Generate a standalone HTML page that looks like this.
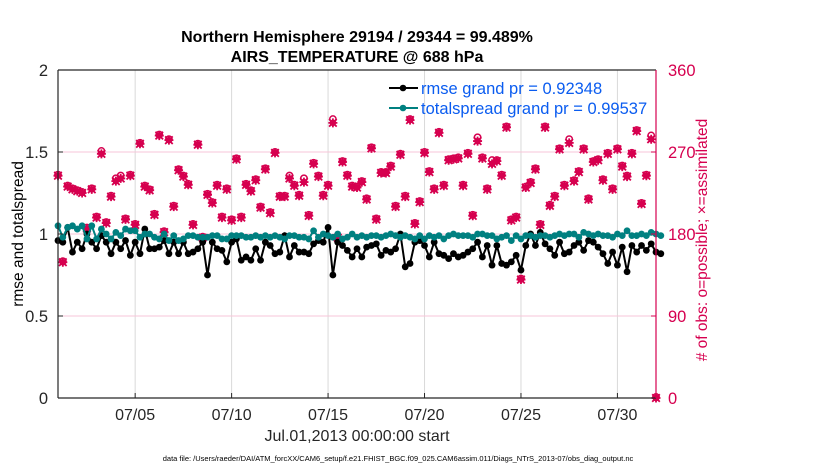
<!DOCTYPE html>
<html><head><meta charset="utf-8">
<style>
body{margin:0;background:#fff;width:830px;height:470px;overflow:hidden;font-family:"Liberation Sans",Arial,sans-serif}
svg text{font-family:"Liberation Sans",Arial,sans-serif}
</style></head>
<body>
<svg id="chart" width="830" height="470" viewBox="0 0 830 470" xmlns="http://www.w3.org/2000/svg">
<text x="357" y="42" text-anchor="middle" font-size="16" font-weight="bold">Northern Hemisphere 29194 / 29344 = 99.489%</text>
<text x="357" y="62" text-anchor="middle" font-size="16" font-weight="bold">AIRS_TEMPERATURE @ 688 hPa</text>
<g id="grid"></g>
<g id="marks"></g>
<g id="axes"></g>
<text transform="translate(23,234) rotate(-90)" text-anchor="middle" font-size="15.5">rmse and totalspread</text>
<text transform="translate(707,240) rotate(-90)" text-anchor="middle" font-size="15.5" fill="#d6004f"># of obs: o=possible; ×=assimilated</text>
<text x="357" y="441" text-anchor="middle" font-size="16" fill="#262626">Jul.01,2013 00:00:00 start</text>
<text x="398" y="461" text-anchor="middle" font-size="7.5">data file: /Users/raeder/DAI/ATM_forcXX/CAM6_setup/f.e21.FHIST_BGC.f09_025.CAM6assim.011/Diags_NTrS_2013-07/obs_diag_output.nc</text>
<g>
<line x1="389" y1="88" x2="418" y2="88" stroke="#000" stroke-width="2"/>
<circle cx="403" cy="88" r="3.3" fill="#000"/>
<text x="421" y="94" font-size="16.5" fill="#0a5cf0">rmse grand pr = 0.92348</text>
<line x1="389" y1="108" x2="418" y2="108" stroke="#008080" stroke-width="2"/>
<circle cx="403" cy="108" r="3.3" fill="#008080"/>
<text x="421" y="114" font-size="16.5" fill="#0a5cf0">totalspread grand pr = 0.99537</text>
</g>
</svg>
<script>
const obsAssim=[244,149,232,229,227,225,186,229,198,268,192,221,238,241,196,244,190,279,232,228,201,288,182,283,210,250,243,234,190,278,176,223,214,233,198,229,195,262,198,234,227,239,209,
251,203,269,221,221,241,233,222,237,200,257,243,222,233,302,176,259,244,232,231,237,218,274,196,247,247,254,210,267,221,305,191,215,269,248,229,291,233,261,262,
263,233,268,200,282,263,229,257,260,244,297,195,198,130,231,236,251,190,297,211,221,273,233,280,238,248,273,218,259,261,239,268,229,273,254,243,268,293,213,244,284,0];
const obsPossible=[244,149,232,229,227,225,186,229,198,270,192,221,240,243,196,244,190,279,232,228,201,288,182,283,210,250,243,234,190,278,176,223,214,233,198,229,195,262,198,234,227,239,209,
251,203,269,221,221,243,233,222,240,200,257,243,222,233,305,176,259,244,232,231,237,218,274,196,247,247,254,210,267,221,305,191,215,269,248,229,291,233,261,262,
263,233,268,200,285,263,229,260,260,244,297,195,198,130,231,236,251,190,297,211,221,273,233,283,238,248,273,218,259,261,239,268,229,273,254,243,268,293,213,244,287,0];
const rmse=[0.96,0.95,1.04,0.89,0.95,0.91,1.0,0.95,0.91,0.99,0.95,0.88,0.95,0.91,0.96,0.87,0.95,0.88,1.03,0.91,0.91,0.92,0.96,0.88,0.95,0.88,0.95,0.88,0.89,0.91,0.95,0.75,0.95,0.91,0.90,0.83,0.95,0.97,0.84,0.86,0.84,0.91,
0.84,0.95,0.93,0.88,0.89,0.99,0.86,0.93,0.89,0.89,0.88,0.94,0.96,0.95,1.04,0.75,0.95,0.93,0.90,0.86,0.91,0.86,0.92,0.93,0.94,0.87,0.90,0.89,0.91,1.0,0.80,0.82,0.95,0.96,0.93,0.86,0.95,0.88,0.87,0.85,0.88,0.86,
0.87,0.89,0.91,0.95,0.86,0.93,0.81,0.93,0.82,0.81,0.83,0.87,0.78,0.93,1.0,0.93,1.01,0.94,0.91,0.87,0.95,0.88,0.89,0.93,0.95,0.90,0.96,0.95,0.92,0.88,0.82,0.89,0.81,0.92,0.77,0.93,0.89,0.93,0.90,0.94,0.89,0.88,null];
const spread=[1.05,0.98,1.04,1.05,1.03,1.05,0.97,1.05,0.97,1.03,1.00,0.97,1.01,0.99,1.03,1.02,1.02,0.98,1.00,1.00,0.98,0.97,1.00,0.96,0.99,0.96,0.97,0.99,0.99,0.98,0.98,0.98,0.99,0.99,0.97,0.97,0.99,0.99,0.99,0.98,0.98,0.99,
0.98,0.99,0.98,0.99,0.98,0.97,0.99,0.99,0.98,0.98,0.97,1.02,0.98,1.00,0.99,0.98,1.00,0.97,0.98,1.00,0.98,0.99,0.98,0.99,0.99,0.98,0.99,1.00,0.99,0.98,0.99,0.98,0.97,0.99,0.97,0.99,0.98,0.99,0.97,0.99,1.00,0.99,
0.99,0.99,0.98,1.00,1.00,0.99,0.99,0.97,0.98,0.99,0.96,0.99,0.97,0.99,0.99,0.98,0.99,0.99,0.98,0.99,1.00,0.99,1.00,1.00,0.98,1.01,1.00,0.99,1.00,0.99,0.99,0.98,1.00,0.99,1.02,0.99,0.99,1.00,0.99,1.01,1.00,0.99,null];
const dateTicks=[4,9,14,19,24,29];
const dateLabels=["07/05","07/10","07/15","07/20","07/25","07/30"];
const leftTicks=[0,0.5,1,1.5,2];
const rightTicks=[0,90,180,270,360];

const X0=58,X1=656,Y0=398,Y1=70,DAYS=31;
const xs=t=>X0+(X1-X0)*t/DAYS;
const yl=v=>Y0-(Y0-Y1)*v/2;
const yr=v=>Y0-(Y0-Y1)*v/360;
const NS="http://www.w3.org/2000/svg";
function mk(tag,attrs,parent){const e=document.createElementNS(NS,tag);for(const k in attrs)e.setAttribute(k,attrs[k]);parent.appendChild(e);return e;}
const grid=document.getElementById('grid'),marks=document.getElementById('marks'),axes=document.getElementById('axes');

dateTicks.forEach((d,i)=>{
  const l=mk('line',{x1:xs(d),x2:xs(d),y1:Y1,y2:Y0,stroke:'#d9d9d9','stroke-width':1},grid);
  
  
  const tk=mk('line',{x1:xs(d),x2:xs(d),y1:Y0,y2:Y0-5,stroke:'#262626','stroke-width':1},axes);
  
  
  const t=mk('text',{x:xs(d),y:Y0+22,'text-anchor':'middle','font-size':16,fill:'#262626'},axes);
  t.textContent=dateLabels[i];
  
  
});
rightTicks.forEach(v=>{
  if(v>0&&v<360){const l=mk('line',{x1:X0,x2:X1,y1:yr(v),y2:yr(v),stroke:'#f7c6d8','stroke-width':1},grid);
  
  }
  const t=mk('text',{x:X1+12,y:yr(v)+6,'font-size':16.5,fill:'#d6004f'},axes);
  t.textContent=String(v);
  
  
  const tk=mk('line',{x1:X1,x2:X1-5,y1:yr(v),y2:yr(v),stroke:'#d6004f'},axes);
  
  
});
leftTicks.forEach(v=>{
  const t=mk('text',{x:X0-10,y:yl(v)+6,'text-anchor':'end','font-size':16.5,fill:'#262626'},axes);
  t.textContent=String(v);
  
  
  const tk=mk('line',{x1:X0,x2:X0+5,y1:yl(v),y2:yl(v),stroke:'#262626'},axes);
  
  
});
const frame=[['left-axis-line',X0,Y1,X0,Y0,'#262626'],['bottom-axis-line',X0,Y0,X1,Y0,'#262626'],['top-axis-line',X0,Y1,X1,Y1,'#262626'],['right-axis-line',X1,Y1,X1,Y0,'#d6004f']];
frame.forEach(f=>{const l=mk('line',{x1:f[1],y1:f[2],x2:f[3],y2:f[4],stroke:f[5],'stroke-width':1.2},axes);
  
  });

function tOf(i){return i*0.25;}
obsPossible.forEach((v,i)=>{
  const c=mk('circle',{cx:xs(tOf(i)),cy:yr(v)-1,r:3.2,fill:'none',stroke:'#d6004f','stroke-width':1.5},marks);
  
  
});
obsAssim.forEach((v,i)=>{
  const x=xs(tOf(i)),y=yr(v);
  const c=mk('circle',{cx:x,cy:y,r:3.2,fill:'#d6004f'},marks);
  
  
  const p=mk('path',{d:`M${x-3.8},${y-3.8}L${x+3.8},${y+3.8}M${x-3.8},${y+3.8}L${x+3.8},${y-3.8}M${x-4.5},${y}L${x+4.5},${y}M${x},${y-4.5}L${x},${y+4.5}`,stroke:'#d6004f','stroke-width':1.8},marks);
  
  
});
function series(arr,color,name){
  let d='';arr.forEach((v,i)=>{if(v!==null)d+=(d?'L':'M')+xs(tOf(i))+','+yl(v);});
  const p=mk('path',{d:d,fill:'none',stroke:color,'stroke-width':2},marks);
  
  
  arr.forEach((v,i)=>{if(v===null)return;
    const c=mk('circle',{cx:xs(tOf(i)),cy:yl(v),r:3.4,fill:color},marks);
    
    });
}
series(rmse,'#000','rmse');
series(spread,'#008080','totalspread');
</script>
</body></html>
